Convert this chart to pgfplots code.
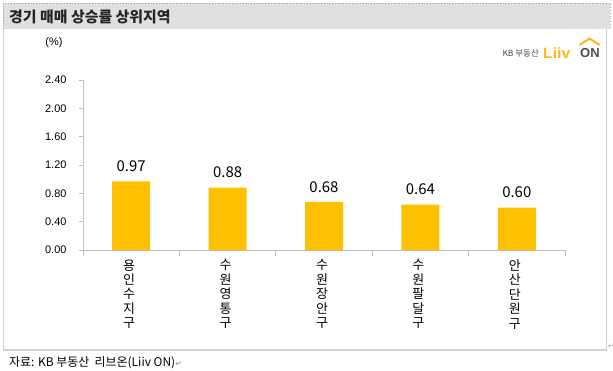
\documentclass[border=0pt]{standalone}
\usepackage{pgfplots}
\pgfplotsset{compat=1.18}
\usepackage{fontspec}
\setmainfont{Noto Sans CJK KR}
\newfontfamily\arial{Liberation Sans}
\newfontfamily\dejavu{DejaVu Sans}
\definecolor{baryel}{HTML}{FFC000}
\definecolor{logoyel}{HTML}{FFB81C}
\definecolor{axgray}{HTML}{BFBFBF}
\begin{document}
\begin{tikzpicture}[x=1bp,y=1bp]
\useasboundingbox (0,0) rectangle (613,-370);
% outer box
\draw[draw=black!18, line width=1.2bp] (3.5,-5) rectangle (606.5,-350);
% title band
\fill[black!12] (3.5,-3) rectangle (610,-29);
\draw[black!35, dotted, line width=0.8bp] (3.5,-29) -- (3.5,-3) -- (610,-3) -- (610,-29);
\node[anchor=west, font=\bfseries\fontsize{15}{15}\selectfont, text=black!85, inner sep=0] at (9,-17) {경기 매매 상승률 상위지역};
% unit
\node[font=\arial\fontsize{11}{11}\selectfont] at (54,-43) {(\%)};
% logo
\node[anchor=east, font=\fontsize{8.5}{8.5}\selectfont, text=black!70, inner sep=0] at (539,-53) {KB 부동산};
\node[anchor=west, font=\arial\bfseries\fontsize{15}{15}\selectfont, text=logoyel, inner sep=0, xscale=1.05] at (543,-53) {Liiv};
\node[anchor=west, font=\arial\bfseries\fontsize{13}{13}\selectfont, text=black!70, inner sep=0] at (580,-53.5) {ON};
\draw[logoyel, line width=2bp] (579.5,-45) -- (589.5,-38.5) -- (599.5,-45);
% footer
\node[anchor=west, font=\fontsize{12}{12}\selectfont, inner sep=0] at (9,-363) {자료: KB 부동산~~리브온(Liiv ON)\textcolor{black!40}{\dejavu\fontsize{8}{8}\selectfont ↵}};
\node[font=\dejavu\fontsize{7}{7}\selectfont, text=black!40] at (611,-346) {↵};
\begin{axis}[
  at={(83bp,-250bp)}, anchor=south west,
  scale only axis, width=482bp, height=170bp,
  xmin=-0.5, xmax=4.5, ymin=0, ymax=2.4,
  axis x line=bottom, axis y line=left,
  axis line style={-, draw=axgray, line width=0.8bp},
  ytick={0,0.4,0.8,1.2,1.6,2.0,2.4},
  yticklabel style={/pgf/number format/fixed, /pgf/number format/fixed zerofill, /pgf/number format/precision=2, /pgf/number format/assume math mode=true, font=\arial\fontsize{11}{11}\selectfont, xshift=-9bp},
  ytick style={draw=axgray, line width=0.8bp},
  tick align=outside,
  major tick length=4bp,
  xtick={0,1,2,3,4},
  xticklabels={{용\\인\\수\\지\\구},{수\\원\\영\\통\\구},{수\\원\\장\\안\\구},{수\\원\\팔\\달\\구},{안\\산\\단\\원\\구}},
  xticklabel style={align=center, font=\fontsize{13}{14.5}\selectfont, yshift=-2bp, xshift=-2bp},
  major x tick style={draw=none},
  minor xtick={-0.5,0.5,1.5,2.5,3.5,4.5},
  minor x tick style={draw=axgray, line width=0.8bp},
  minor tick length=6bp,
  ybar, bar width=38bp,
  nodes near coords={\pgfmathprintnumber[fixed,fixed zerofill,precision=2,assume math mode=true]{\pgfplotspointmeta}},
  nodes near coords style={font=\fontsize{15}{15}\selectfont, anchor=south, yshift=6bp},
  clip=false,
]
\addplot[fill=baryel, draw=none] coordinates {(0,0.97) (1,0.88) (2,0.68) (3,0.64) (4,0.60)};
\end{axis}
\end{tikzpicture}
\end{document}
